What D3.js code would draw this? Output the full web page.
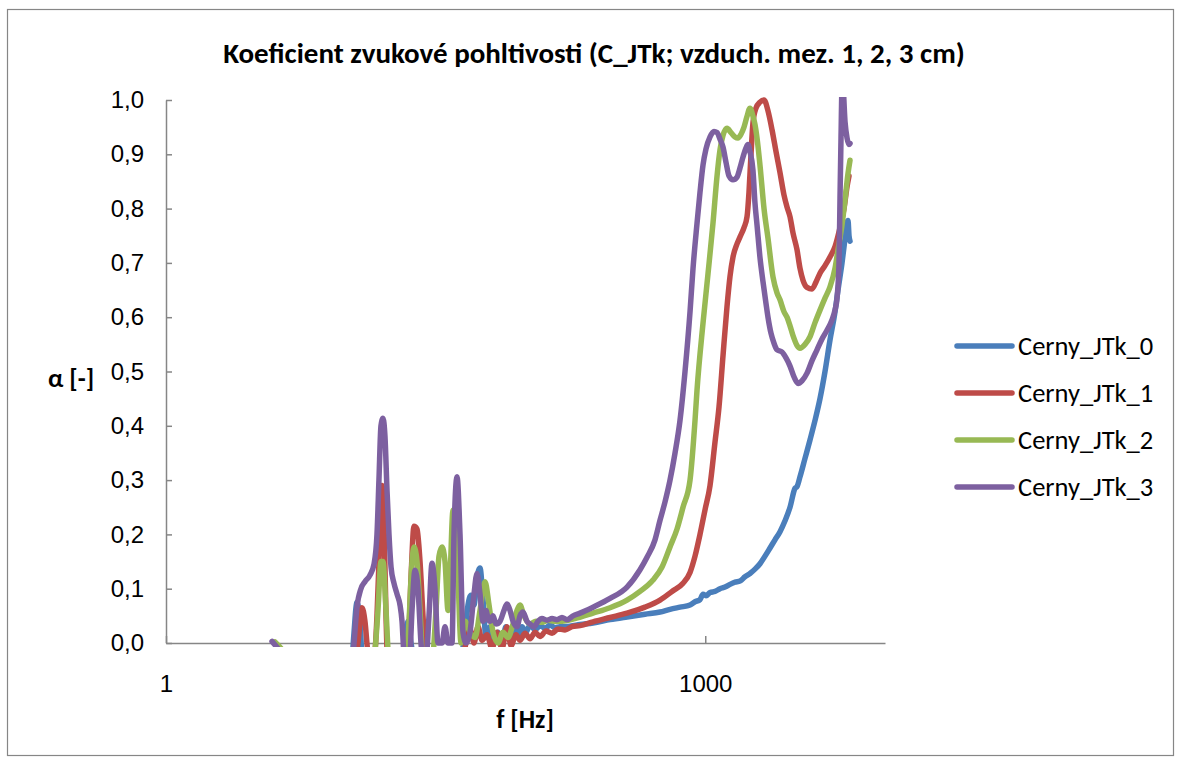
<!DOCTYPE html>
<html>
<head>
<meta charset="utf-8">
<script src="https://cdn.jsdelivr.net/npm/d3@7"></script>
<style>
  body { margin: 0; background: #fff; }
  svg { display: block; font-family: Carlito, Calibri, Lato, sans-serif; }
  .axis path, .axis line { stroke: #868686; stroke-width: 1.5; }
  .axis text { fill: #000; font-size: 24px; }
</style>
</head>
<body>
<svg id="chart" width="1181" height="760"></svg>
<script>
// ---- data (frequency [Hz], alpha [-]) ----
var seriesNames = ["Cerny_JTk_0", "Cerny_JTk_1", "Cerny_JTk_2", "Cerny_JTk_3"];
var seriesColors = ["#4a7ebb", "#be4b48", "#98b954", "#7d60a0"];
var yTicks = [0, 0.1, 0.2, 0.3, 0.4, 0.5, 0.6, 0.7, 0.8, 0.9, 1.0];
var xTicks = [1, 1000];

var cerny0 = [[10.56,-0.1],[11.12,0.02],[11.55,0.075],[12.0,0.04],[12.47,-0.05],[15.5,-0.1],[20.04,-0.05],[21.36,0.0],
  [22.2,0.04],[23.07,0.0],[25.89,-0.06],[33.45,-0.06],[43.22,-0.02],[45.49,0.0],[47.88,0.07],[49.75,0.088],[51.7,0.07],
  [53.73,0.12],[55.84,0.138],[58.02,0.08],[60.3,0.01],[63.46,0.03],[66.8,0.0],[70.31,0.02],[74.0,0.005],[77.9,0.03],
  [82.0,0.01],[86.32,0.035],[90.84,0.015],[95.63,0.03],[100.6,0.02],[106.0,0.033],[113.0,0.024],[120.4,0.032],
  [128.4,0.027],[136.9,0.033],[145.9,0.028],[155.6,0.03],[176.8,0.031],[201.0,0.034],[237.5,0.037],[295.3,0.043],
  [367.1,0.048],[462.3,0.053],[560.2,0.057],[636.8,0.062],[723.7,0.066],[822.8,0.07],[877.2,0.076],[935.0,0.08],
  [971.6,0.09],[1009.7,0.087],[1063,0.093],[1133,0.095],[1208,0.1],[1288,0.103],[1373,0.108],[1464,0.112],[1561,0.114],
  [1664,0.122],[1774,0.128],[1891,0.136],[2016,0.146],[2150,0.16],[2293,0.175],[2443,0.19],[2606,0.205],[2778,0.225],
  [2962,0.25],[3158,0.285],[3240,0.288],[3366,0.306],[3589,0.34],[3826,0.374],[4080,0.41],[4349,0.45],[4637,0.5],
  [4943,0.558],[5271,0.61],[5477,0.65],[5766,0.7],[5992,0.745],[6148,0.775],[6227,0.778],[6306,0.75],[6388,0.74]];

var cerny1 = [[10.56,-0.1],[11.7,0.0],[12.31,0.065],[12.79,0.04],[13.3,-0.02],[14.18,-0.05],[14.92,0.05],[15.5,0.2],
  [15.91,0.29],[16.32,0.22],[16.75,0.05],[17.18,-0.05],[20.04,-0.1],[22.2,-0.02],[23.07,0.12],[23.97,0.215],[24.92,0.21],
  [25.89,0.15],[26.9,0.05],[27.96,-0.03],[33.45,-0.1],[43.22,-0.05],[46.67,0.0],[49.12,0.025],[51.7,0.0],[54.42,0.03],
  [57.28,0.005],[61.08,0.015],[65.11,-0.01],[69.41,0.02],[74.0,-0.01],[78.91,0.03],[83.06,-0.005],[88.54,0.015],
  [93.2,0.005],[99.37,0.018],[106.0,0.008],[113.0,0.02],[120.4,0.012],[130.1,0.022],[140.5,0.018],[151.6,0.026],
  [165.9,0.024],[181.4,0.03],[201.0,0.032],[237.5,0.039],[295.3,0.047],[367.1,0.055],[462.3,0.066],[560.2,0.079],
  [653.4,0.095],[752.1,0.11],[822.8,0.13],[877.2,0.16],[935.0,0.2],[996.8,0.245],[1063,0.29],[1133,0.37],[1193,0.435],
  [1256,0.53],[1321,0.619],[1373,0.675],[1427,0.711],[1502,0.735],[1561,0.748],[1643,0.765],[1708,0.785],[1751,0.83],
  [1797,0.9],[1843,0.958],[1915,0.985],[2016,0.996],[2123,1.0],[2234,0.98],[2353,0.945],[2475,0.905],[2606,0.866],
  [2742,0.825],[2850,0.803],[2962,0.785],[3078,0.755],[3240,0.724],[3366,0.69],[3499,0.668],[3683,0.655],[3926,0.652],
  [4133,0.665],[4349,0.681],[4637,0.695],[4943,0.711],[5271,0.73],[5620,0.765],[5915,0.8],[6148,0.84],[6306,0.86]];

var cerny2 = [[4.04,0.002],[4.6,-0.02],[5.57,-0.08],[12.0,-0.1],[14.36,-0.03],[15.11,0.06],[15.7,0.15],[16.11,0.15],
  [16.75,0.06],[17.4,-0.03],[21.36,-0.05],[22.49,0.04],[23.37,0.15],[23.97,0.177],[24.92,0.15],[25.89,0.06],[26.9,-0.03],
  [30.19,-0.03],[31.78,0.06],[33.02,0.16],[34.31,0.177],[35.66,0.15],[37.06,0.06],[38.02,0.12],[39.51,0.245],
  [40.54,0.24],[42.12,0.12],[43.78,0.0],[46.08,0.04],[49.12,0.02],[52.37,0.01],[55.84,0.06],[59.53,0.113],[62.66,0.07],
  [65.95,0.02],[70.31,0.0],[74.96,0.02],[79.92,0.01],[85.22,0.035],[89.68,0.06],[93.2,0.07],[98.1,0.05],[106.0,0.035],
  [114.4,0.04],[123.5,0.038],[133.5,0.042],[145.9,0.04],[155.6,0.04],[188.5,0.045],[237.5,0.055],[295.3,0.065],
  [367.1,0.079],[433.6,0.095],[512.1,0.116],[574.8,0.14],[636.8,0.177],[696.7,0.21],[752.1,0.25],[822.8,0.3],
  [877.2,0.41],[900.0,0.466],[971.6,0.589],[1036,0.68],[1104,0.773],[1163,0.86],[1208,0.908],[1256,0.935],[1321,0.948],
  [1391,0.94],[1464,0.932],[1521,0.93],[1581,0.937],[1643,0.95],[1708,0.97],[1774,0.985],[1843,0.97],[1891,0.955],
  [1941,0.93],[2016,0.88],[2123,0.8],[2234,0.745],[2382,0.674],[2507,0.645],[2606,0.632],[2742,0.61],[2850,0.6],
  [2962,0.584],[3078,0.566],[3240,0.548],[3366,0.543],[3589,0.55],[3826,0.564],[4080,0.59],[4349,0.613],[4637,0.635],
  [4943,0.656],[5271,0.69],[5477,0.724],[5766,0.77],[5992,0.816],[6227,0.865],[6388,0.889]];

var cerny3 = [[3.89,0.003],[4.31,-0.015],[4.9,-0.04],[5.57,-0.08],[10.56,-0.1],[11.12,0.0],[11.55,0.066],[12.15,0.1],
  [12.79,0.113],[13.64,0.125],[14.36,0.145],[14.92,0.2],[15.3,0.3],[15.7,0.4],[16.11,0.414],[16.53,0.38],[16.97,0.28],
  [17.4,0.2],[17.86,0.14],[18.55,0.11],[19.29,0.09],[20.04,0.07],[20.56,0.04],[21.09,-0.02],[22.49,-0.05],[23.37,0.06],
  [24.28,0.134],[25.23,0.1],[26.22,0.0],[27.6,-0.05],[29.05,0.05],[30.19,0.147],[31.37,0.1],[32.6,0.0],[34.31,0.0],
  [35.66,0.03],[37.06,0.0],[39.01,0.0],[40.02,0.2],[41.59,0.306],[43.22,0.2],[44.91,0.02],[46.67,0.0],[49.12,0.02],
  [51.7,0.09],[53.73,0.128],[55.84,0.09],[58.02,0.04],[60.3,0.06],[61.86,0.045],[63.46,0.04],[65.95,0.05],[68.53,0.035],
  [72.13,0.04],[75.93,0.06],[78.91,0.072],[82.0,0.06],[85.22,0.04],[89.68,0.03],[93.2,0.05],[96.86,0.057],[101.9,0.04],
  [106.0,0.035],[111.5,0.03],[117.4,0.04],[123.5,0.045],[131.8,0.042],[140.5,0.045],[149.7,0.043],[159.6,0.047],
  [170.2,0.043],[183.8,0.05],[201.0,0.055],[237.5,0.066],[295.3,0.082],[367.1,0.103],[433.6,0.135],[474.3,0.158],
  [525.4,0.19],[560.2,0.226],[597.3,0.26],[636.8,0.3],[679.0,0.35],[723.7,0.41],[771.7,0.5],[822.8,0.61],[855.0,0.69],
  [900.0,0.773],[935.0,0.83],[971.6,0.88],[1009.7,0.91],[1063,0.932],[1118,0.942],[1163,0.94],[1208,0.928],[1256,0.913],
  [1305,0.885],[1356,0.86],[1427,0.853],[1502,0.858],[1561,0.875],[1622,0.895],[1686,0.912],[1729,0.918],[1774,0.905],
  [1843,0.87],[1891,0.81],[1941,0.77],[2016,0.71],[2096,0.665],[2178,0.625],[2234,0.6],[2323,0.57],[2413,0.552],
  [2507,0.54],[2672,0.536],[2814,0.525],[2962,0.51],[3118,0.49],[3282,0.478],[3454,0.483],[3683,0.497],[3926,0.52],
  [4185,0.54],[4462,0.56],[4757,0.576],[5072,0.595],[5271,0.613],[5408,0.635],[5548,0.7],[5620,0.82],[5692,0.93],
  [5766,1.02],[5840,1.02],[5992,0.96],[6148,0.93],[6306,0.918],[6388,0.92]];

var allSeries = [cerny0, cerny1, cerny2, cerny3];

// ---- layout ----
var plot = {left: 166, right: 885, top: 100, bottom: 643};

var svg = d3.select("#chart");

// outer chart border
svg.append("rect")
    .attr("x", 7.5).attr("y", 9.5)
    .attr("width", 1166).attr("height", 746)
    .attr("fill", "none")
    .attr("stroke", "#868686")
    .attr("stroke-width", 1.2);

var x = d3.scaleLog()
    .domain([1, 10000])
    .range([plot.left, plot.right]);
var y = d3.scaleLinear()
    .domain([0, 1])
    .range([plot.bottom, plot.top]);

var fmt = function(d) { return d3.format(".1f")(d).replace(".", ","); };

// axes
svg.append("g")
    .attr("class", "axis")
    .attr("transform", "translate(" + plot.left + ",0)")
    .call(d3.axisLeft(y).tickValues(yTicks).tickFormat(fmt)
        .tickSizeInner(-6).tickSizeOuter(0).tickPadding(22));

svg.append("g")
    .attr("class", "axis")
    .attr("transform", "translate(0," + plot.bottom + ")")
    .call(d3.axisBottom(x).tickValues(xTicks).tickFormat(d3.format("d"))
        .tickSizeInner(-7).tickSizeOuter(0).tickPadding(32));

svg.selectAll(".axis .domain").attr("stroke", "#868686");

// clip so the lines dip below the axis a little, like the original
svg.append("clipPath").attr("id", "plotclip")
  .append("rect")
    .attr("x", plot.left).attr("y", plot.top - 3)
    .attr("width", plot.right - plot.left).attr("height", plot.bottom - plot.top + 7);

var line = d3.line()
    .x(function(d) { return x(d[0]); })
    .y(function(d) { return y(d[1]); })
    .curve(d3.curveMonotoneX);

svg.append("g")
    .attr("clip-path", "url(#plotclip)")
  .selectAll("path")
    .data(allSeries)
  .enter().append("path")
    .attr("d", line)
    .attr("fill", "none")
    .attr("stroke", function(d, i) { return seriesColors[i]; })
    .attr("stroke-width", 5.5)
    .attr("stroke-linejoin", "round")
    .attr("stroke-linecap", "round");

// title and axis labels
svg.append("text")
    .attr("x", 594).attr("y", 63)
    .attr("text-anchor", "middle")
    .style("font-size", "29px").style("font-weight", "bold")
    .text("Koeficient zvukové pohltivosti (C_JTk; vzduch. mez. 1, 2, 3 cm)");

svg.append("text")
    .attr("x", 525).attr("y", 728)
    .attr("text-anchor", "middle")
    .style("font-size", "26px").style("font-weight", "bold")
    .text("f [Hz]");

svg.append("text")
    .attr("x", 48).attr("y", 387)
    .style("font-size", "26px").style("font-weight", "bold")
    .text("α [-]");

// legend
var legend = svg.append("g").selectAll("g")
    .data(seriesNames)
  .enter().append("g")
    .attr("transform", function(d, i) { return "translate(957," + (346 + i * 47) + ")"; });

legend.append("line")
    .attr("x1", 0).attr("x2", 55)
    .attr("stroke", function(d, i) { return seriesColors[i]; })
    .attr("stroke-width", 5.5)
    .attr("stroke-linecap", "round");

legend.append("text")
    .attr("x", 61).attr("y", 9)
    .style("font-size", "26.5px")
    .text(function(d) { return d; });
</script>
</body>
</html>
